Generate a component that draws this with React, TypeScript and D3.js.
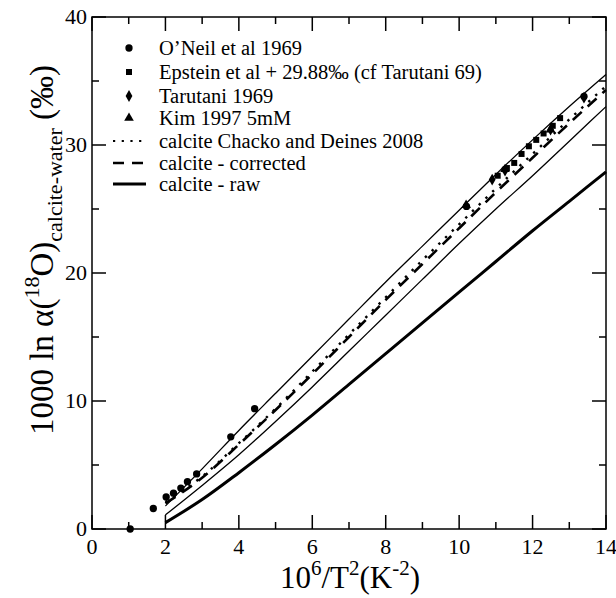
import React from "react";
import * as d3 from "d3";

// ---- data ----
const curveX = [2, 3, 4, 5, 6, 7, 8, 9, 10, 11, 12, 13, 14];
const boundUpper = [1.8, 4.7, 7.7, 10.6, 13.5, 16.4, 19.3, 22.1, 24.9, 27.7, 30.4, 33.0, 35.5];
const boundLower = [1.1, 3.4, 5.8, 8.4, 11.1, 13.9, 16.7, 19.5, 22.3, 25.0, 27.6, 30.3, 33.0];
const corrected = [2.0, 4.0, 6.6, 9.3, 12.1, 15.0, 17.9, 20.7, 23.5, 26.3, 29.0, 31.7, 34.3];
const chacko = [2.1, 4.1, 6.7, 9.4, 12.3, 15.2, 18.1, 21.0, 23.8, 26.6, 29.3, 32.0, 34.6];
const raw = [0.5, 2.3, 4.4, 6.6, 8.9, 11.3, 13.7, 16.1, 18.5, 20.9, 23.3, 25.6, 27.9];

const oneilX = [1.04, 1.67, 2.02, 2.22, 2.42, 2.6, 2.85, 3.78, 4.43, 10.2, 11.25, 13.4];
const oneilY = [0.0, 1.6, 2.5, 2.8, 3.2, 3.7, 4.3, 7.2, 9.4, 25.2, 28.1, 33.8];
const epsteinX = [11.05, 11.3, 11.5, 11.7, 11.9, 12.1, 12.3, 12.55, 12.75];
const epsteinY = [27.6, 28.2, 28.6, 29.3, 29.9, 30.4, 30.9, 31.5, 32.1];
const tarutaniX = [10.9, 11.25, 12.49, 13.4];
const tarutaniY = [27.3, 28.0, 31.2, 33.7];
const kimX = [10.19, 11.25, 12.49];
const kimY = [25.3, 28.1, 31.2];

const xMajor = [0, 2, 4, 6, 8, 10, 12, 14];
const xMinor = [1, 3, 5, 7, 9, 11, 13];
const yMajor = [0, 10, 20, 30, 40];
const yMinor = [5, 15, 25, 35];

const legendLabels = [
  "O\u2019Neil et al 1969",
  "Epstein et al + 29.88\u2030 (cf Tarutani 69)",
  "Tarutani 1969",
  "Kim 1997 5mM",
  "calcite Chacko and Deines 2008",
  "calcite - corrected",
  "calcite - raw",
];

const W = 616;
const H = 598;
const FONT = "Liberation Serif, Times New Roman, Tinos, DejaVu Serif, serif";

export default function App() {
  const x = d3.scaleLinear().domain([0, 14]).range([92, 606]);
  const y = d3.scaleLinear().domain([0, 40]).range([529, 17]);
  const [x0, x1] = x.range();
  const [y0, y1] = y.range();

  const line = d3
    .line<[number, number]>()
    .x((d) => x(d[0]))
    .y((d) => y(d[1]))
    .curve(d3.curveMonotoneX);
  const mk = (ys: number[]) => line(curveX.map((cx, i) => [cx, ys[i]] as [number, number])) || "";

  const sym = (type: any, size: number) => d3.symbol().type(type).size(size)() || "";
  const circlePath = sym(d3.symbolCircle, 42);
  const squarePath = sym(d3.symbolSquare, 36);
  const diamondPath = sym(d3.symbolDiamond, 40);
  const trianglePath = sym(d3.symbolTriangle, 40);

  const majorLen = 14;
  const minorLen = 7;

  const legendY = [48, 72, 96, 118, 141, 163, 184];
  const legMarkX = 129;
  const legLineX0 = 113;
  const legLineX1 = 146;
  const legTextX = 159;

  return (
    <svg
      width={W}
      height={H}
      style={{ position: "absolute", left: 0, top: 0, background: "#fff", fontFamily: FONT }}
    >
      <rect x={0} y={0} width={W} height={H} fill="#fff" />
      {/* curves */}
      <g fill="none" stroke="#000">
        <path d={mk(boundUpper)} strokeWidth={1.3} />
        <path d={mk(boundLower)} strokeWidth={1.3} />
        <path d={mk(raw)} strokeWidth={3} />
        <path d={mk(corrected)} strokeWidth={2.6} strokeDasharray="12,8" />
        <path d={mk(chacko)} strokeWidth={2.4} strokeDasharray="2.4,7" />
      </g>
      {/* points */}
      <g fill="#000">
        {oneilX.map((v, i) => (
          <path key={"o" + i} d={circlePath} transform={`translate(${x(v)},${y(oneilY[i])})`} />
        ))}
        {epsteinX.map((v, i) => (
          <path key={"e" + i} d={squarePath} transform={`translate(${x(v)},${y(epsteinY[i])})`} />
        ))}
        {tarutaniX.map((v, i) => (
          <path key={"t" + i} d={diamondPath} transform={`translate(${x(v)},${y(tarutaniY[i])})`} />
        ))}
        {kimX.map((v, i) => (
          <path key={"k" + i} d={trianglePath} transform={`translate(${x(v)},${y(kimY[i])})`} />
        ))}
      </g>
      {/* frame & ticks */}
      <g stroke="#000" strokeWidth={1.5} fill="none">
        <rect x={x0} y={y1} width={x1 - x0} height={y0 - y1} />
        {xMajor.map((t) => (
          <g key={"xm" + t}>
            <line x1={x(t)} x2={x(t)} y1={y0} y2={y0 - majorLen} />
            <line x1={x(t)} x2={x(t)} y1={y1} y2={y1 + majorLen} />
          </g>
        ))}
        {xMinor.map((t) => (
          <g key={"xn" + t}>
            <line x1={x(t)} x2={x(t)} y1={y0} y2={y0 - minorLen} />
            <line x1={x(t)} x2={x(t)} y1={y1} y2={y1 + minorLen} />
          </g>
        ))}
        {yMajor.map((t) => (
          <g key={"ym" + t}>
            <line x1={x0} x2={x0 + majorLen} y1={y(t)} y2={y(t)} />
            <line x1={x1} x2={x1 - majorLen} y1={y(t)} y2={y(t)} />
          </g>
        ))}
        {yMinor.map((t) => (
          <g key={"yn" + t}>
            <line x1={x0} x2={x0 + minorLen} y1={y(t)} y2={y(t)} />
            <line x1={x1} x2={x1 - minorLen} y1={y(t)} y2={y(t)} />
          </g>
        ))}
      </g>
      {/* tick labels */}
      <g fontSize={22} fill="#000">
        {xMajor.map((t) => (
          <text key={"xl" + t} x={x(t)} y={y0 + 25} textAnchor="middle">
            {t}
          </text>
        ))}
        {yMajor.map((t) => (
          <text key={"yl" + t} x={x0 - 5} y={y(t) + 7} textAnchor="end">
            {t}
          </text>
        ))}
      </g>
      {/* axis labels */}
      <text x={350} y={588} textAnchor="middle" fontSize={31} fill="#000">
        10
        <tspan fontSize={21} dy={-13}>6</tspan>
        <tspan dy={13}>/T</tspan>
        <tspan fontSize={21} dy={-13}>2</tspan>
        <tspan dy={13}>(K</tspan>
        <tspan fontSize={21} dy={-13}>-2</tspan>
        <tspan dy={13}>)</tspan>
      </text>
      <text
        transform={`translate(53,250) rotate(-90)`}
        textAnchor="middle"
        fontSize={33}
        fill="#000"
      >
        1000 ln α(
        <tspan fontSize={22} dy={-14}>18</tspan>
        <tspan dy={14}>O)</tspan>
        <tspan fontSize={22} dy={9}>calcite-water</tspan>
        <tspan dy={-9}> (‰)</tspan>
      </text>
      {/* legend */}
      <g fill="#000">
        <path d={circlePath} transform={`translate(${legMarkX},${legendY[0]})`} />
        <path d={squarePath} transform={`translate(${legMarkX},${legendY[1]})`} />
        <path d={diamondPath} transform={`translate(${legMarkX},${legendY[2]})`} />
        <path d={trianglePath} transform={`translate(${legMarkX},${legendY[3]})`} />
      </g>
      <g stroke="#000" fill="none">
        <line x1={legLineX0} x2={legLineX1} y1={legendY[4]} y2={legendY[4]} strokeWidth={2.2} strokeDasharray="2.2,6.5" />
        <line x1={legLineX0} x2={legLineX1} y1={legendY[5]} y2={legendY[5]} strokeWidth={2.6} strokeDasharray="11,8" />
        <line x1={legLineX0} x2={legLineX1} y1={legendY[6]} y2={legendY[6]} strokeWidth={3} />
      </g>
      <g fontSize={20.5} fill="#000">
        {legendLabels.map((l, i) => (
          <text key={"lg" + i} x={legTextX} y={legendY[i] + 7}>
            {l}
          </text>
        ))}
      </g>
    </svg>
  );
}
